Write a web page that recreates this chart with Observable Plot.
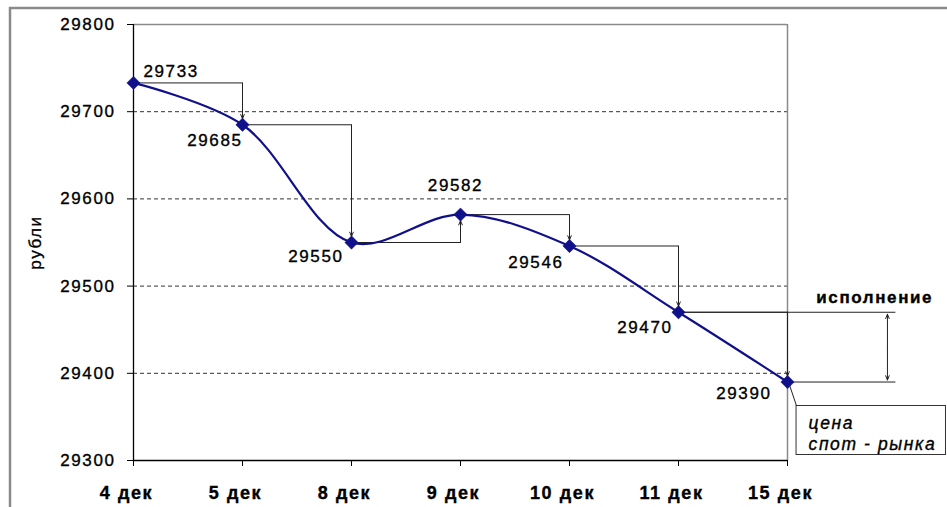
<!DOCTYPE html>
<html><head><meta charset="utf-8">
<script src="https://cdn.jsdelivr.net/npm/d3@7"></script>
<script src="https://cdn.jsdelivr.net/npm/@observablehq/plot@0.6"></script>
<style>
html,body{margin:0;padding:0;background:#fff;overflow:hidden}
#chart svg text{stroke:#000;stroke-width:0.35px}
</style>
</head><body><div id="chart"></div>
<script>
// ---- data ----
const dates = ["4 дек","5 дек","8 дек","9 дек","10 дек","11 дек","15 дек"];
const prices = [29733, 29685, 29550, 29582, 29546, 29470, 29390];
const yTicks = [29300, 29400, 29500, 29600, 29700, 29800];
const gridValues = [29400, 29500, 29600, 29700];
const yLabel = "рубли";
const execLabel = "исполнение";
const spotLabel = "цена\nспот - рынка";

// ---- layout (annotation placement only) ----
const idx = d3.range(dates.length);
const last = dates.length - 1;
const labelPos = [[10,-11,"start"],[0,16,"end"],[-8,14,"end"],[-5,-29,"middle"],[-6,17,"end"],[-6,15,"end"],[-16,12,"end"]];
const font = "'Liberation Sans', Arial, sans-serif";
const navy = "#10108a";
const ink = "#222";
const steps = idx.slice(0, last);

const labelMarks = idx.map(i => Plot.text([i], {
  x: d => d, y: d => prices[d], text: d => String(prices[d]),
  dx: labelPos[i][0], dy: labelPos[i][1], textAnchor: labelPos[i][2], fill: "#000"
}));

const chart = Plot.plot({
  width: 947, height: 507,
  marginLeft: 133, marginRight: 160, marginTop: 24, marginBottom: 47,
  style: {fontFamily: font, fontSize: "17px", letterSpacing: "1.6px", color: "#000", background: "#fff", overflow: "visible"},
  x: {type: "linear", domain: [0, last], label: null},
  y: {domain: [29300, 29800], label: null},
  marks: [
    Plot.ruleY(gridValues, {stroke: "#333", strokeDasharray: "4,3", strokeWidth: 1}),
    Plot.ruleY([29800], {stroke: "#8a8a8a", strokeWidth: 1.5}),
    Plot.ruleX([last], {stroke: "#8a8a8a", strokeWidth: 1.5}),
    Plot.ruleX([0], {stroke: "#000", strokeWidth: 1.3}),
    Plot.ruleY([29300], {stroke: "#000", strokeWidth: 1.3}),
    Plot.axisY({ticks: yTicks, tickSize: 6, tickPadding: 12, tickFormat: d => String(d), stroke: "#000"}),
    Plot.axisX({ticks: idx, tickSize: 6, fill: "none", stroke: "#000"}),
    Plot.axisX({ticks: idx, tickSize: 0, tickPadding: 26, dx: -7, tickFormat: i => dates[i], fontWeight: "bold", fontSize: 18}),
    // step connectors
    Plot.link(steps, {x1: i => i, y1: i => prices[i], x2: i => i + 1, y2: i => prices[i], stroke: ink, strokeWidth: 1}),
    Plot.arrow(steps, {x1: i => i + 1, y1: i => prices[i], x2: i => i + 1, y2: i => prices[i + 1],
      stroke: ink, strokeWidth: 1, headLength: 7, headAngle: 45, insetEnd: 6}),
    // extension for "исполнение"
    Plot.link([last - 1, last], {x1: i => i, y1: i => prices[i], x2: last + 0.99, y2: i => prices[i], stroke: ink, strokeWidth: 1}),
    Plot.arrow([last - 1, last], {x1: last + 0.917, y1: (prices[last - 1] + prices[last]) / 2,
      x2: last + 0.917, y2: i => prices[i], stroke: ink, strokeWidth: 1, headLength: 7, headAngle: 45, insetEnd: 2}),
    Plot.text([execLabel], {x: last + 0.8, y: prices[last - 1], dy: -15, text: d => d, textAnchor: "middle", fontWeight: "bold", fill: "#000"}),
    // callout
    Plot.link([last], {x1: last + 0.02, y1: i => prices[i] - 4, x2: last + 0.083, y2: i => prices[i] - 27.5, stroke: ink, strokeWidth: 1}),
    Plot.rect([last], {x1: last + 0.083, x2: last + 1.454, y1: i => prices[i] - 27.5, y2: i => prices[i] - 83.7,
      fill: "#fff", stroke: "#333", strokeWidth: 1}),
    Plot.text([spotLabel], {x: last + 0.193, y: prices[last], dy: 51, text: d => d, textAnchor: "start",
      lineAnchor: "middle", lineHeight: 1.18, fontStyle: "italic", fontSize: 17.5, fill: "#000"}),
    // y label
    Plot.text([yLabel], {x: 0, y: (yTicks[0] + yTicks[yTicks.length - 1]) / 2, dx: -98, rotate: -90, text: d => d, fill: "#000"}),
    // data
    Plot.line(idx, {x: d => d, y: d => prices[d], stroke: navy, strokeWidth: 2.2, curve: "catmull-rom"}),
    Plot.dot(idx, {x: d => d, y: d => prices[d], symbol: "diamond2", r: 6, fill: navy, stroke: navy, strokeWidth: 0.5}),
    ...labelMarks
  ]
});

d3.select(chart).append("path").attr("d", "M10,507V8H947")
  .attr("fill", "none").attr("stroke", "#8a8a8a").attr("stroke-width", 2.5);
document.getElementById("chart").appendChild(chart);
</script>
</body></html>
